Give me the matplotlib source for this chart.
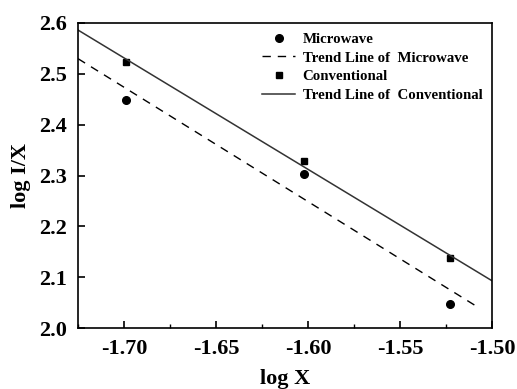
import numpy as np
import matplotlib
matplotlib.use("Agg")
import matplotlib.pyplot as plt
from matplotlib.ticker import MultipleLocator

# log X for the three samples
log_x = [-1.699, -1.602, -1.523]
microwave = [2.449, 2.303, 2.048]
conventional = [2.524, 2.328, 2.137]

plt.rcParams['font.family'] = ['Liberation Serif', 'DejaVu Serif']
plt.rcParams['font.weight'] = 'bold'

fig = plt.figure(figsize=(5.17, 3.89), dpi=100)
ax = fig.add_axes([78 / 517, 1 - 328 / 389, 414 / 517, 305 / 389])

# linear fits, drawn across the plotted range
mw_fit = np.polyfit(log_x, microwave, 1)
cv_fit = np.polyfit(log_x, conventional, 1)
xs_mw = np.array([-1.725, -1.507])
xs_cv = np.array([-1.725, -1.50])

ax.plot(log_x, microwave, 'o', color='black', ms=5.5, label='Microwave')
ax.plot(xs_mw, np.polyval(mw_fit, xs_mw), '--', color='black', lw=1.0,
        dashes=(6, 5), label='Trend Line of  Microwave')
ax.plot(log_x, conventional, 's', color='black', ms=5, label='Conventional')
ax.plot(xs_cv, np.polyval(cv_fit, xs_cv), '-', color='#333333', lw=1.1,
        label='Trend Line of  Conventional')

ax.set_xlim(-1.725, -1.50)
ax.set_ylim(2.0, 2.6)
ax.xaxis.set_major_locator(MultipleLocator(0.05))
ax.xaxis.set_minor_locator(MultipleLocator(0.025))
ax.yaxis.set_major_locator(MultipleLocator(0.1))
ax.xaxis.set_major_formatter(matplotlib.ticker.FormatStrFormatter('%.2f'))
ax.yaxis.set_major_formatter(matplotlib.ticker.FormatStrFormatter('%.1f'))
ax.tick_params(which='both', direction='in', top=False, right=False)
ax.tick_params(which='major', length=5, width=1.2, labelsize=16, pad=8)
ax.tick_params(which='minor', length=3, width=1.0)
for sp in ax.spines.values():
    sp.set_linewidth(1.2)

ax.set_xlabel('log X', fontsize=16, fontweight='bold', labelpad=7)
ax.set_ylabel('log I/X', fontsize=16, fontweight='bold', labelpad=6)

ax.legend(loc='upper right', bbox_to_anchor=(1.0, 1.0), frameon=False,
          fontsize=10.7, handlelength=2.2, handletextpad=0.5, labelspacing=0.35,
          borderaxespad=0.25)

fig.savefig('out.png', dpi=100)
